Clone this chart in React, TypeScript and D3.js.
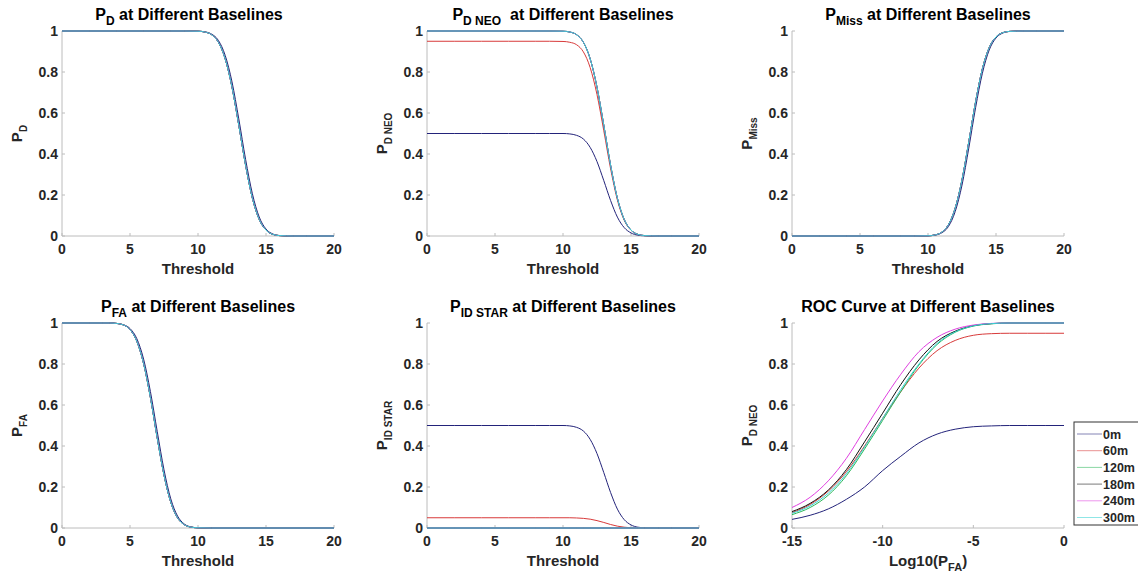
import React from "react";
import * as d3 from "d3";

// ---------- data ----------
const baselines = ["0m", "60m", "120m", "180m", "240m", "300m"];
const seriesColors = ["#23237a", "#d83a3a", "#2cb85a", "#111111", "#e040e0", "#35d2d2"];

const thresholds = [0, 2, 4, 6, 8, 9, 10, 10.5, 11, 11.5, 12, 12.5, 13, 13.5, 14, 14.5, 15, 15.5, 16, 17, 18, 20];
const pdAll = [1, 1, 1, 1, 1, 1, 0.999, 0.995, 0.982, 0.945, 0.864, 0.726, 0.54, 0.345, 0.184, 0.081, 0.029, 0.008, 0.002, 0, 0, 0];
const pd0m = [1, 1, 1, 1, 1, 1, 0.999, 0.996, 0.985, 0.954, 0.881, 0.752, 0.571, 0.374, 0.206, 0.093, 0.034, 0.01, 0.002, 0, 0, 0];
const pMissAll = [0, 0, 0, 0, 0, 0, 0.001, 0.005, 0.018, 0.055, 0.136, 0.274, 0.46, 0.655, 0.816, 0.919, 0.971, 0.992, 0.998, 1, 1, 1];
const pMiss0m = [0, 0, 0, 0, 0, 0, 0.001, 0.004, 0.015, 0.046, 0.119, 0.248, 0.429, 0.626, 0.794, 0.907, 0.966, 0.99, 0.998, 1, 1, 1];
const pdNeo0 = [0.5, 0.5, 0.5, 0.5, 0.5, 0.5, 0.5, 0.498, 0.491, 0.473, 0.432, 0.363, 0.27, 0.173, 0.092, 0.041, 0.015, 0.004, 0.001, 0, 0, 0];
const pdNeo60 = [0.95, 0.95, 0.95, 0.95, 0.95, 0.95, 0.949, 0.945, 0.933, 0.898, 0.821, 0.69, 0.513, 0.328, 0.175, 0.077, 0.028, 0.008, 0.002, 0, 0, 0];
const pdNeoHigh = [1, 1, 1, 1, 1, 1, 0.999, 0.995, 0.982, 0.945, 0.864, 0.726, 0.54, 0.345, 0.184, 0.081, 0.029, 0.008, 0.002, 0, 0, 0];
const pIdStar0 = [0.5, 0.5, 0.5, 0.5, 0.5, 0.5, 0.5, 0.498, 0.491, 0.473, 0.432, 0.363, 0.27, 0.173, 0.092, 0.041, 0.015, 0.004, 0.001, 0, 0, 0];
const pIdStar60 = [0.05, 0.05, 0.05, 0.05, 0.05, 0.05, 0.05, 0.05, 0.049, 0.047, 0.043, 0.036, 0.027, 0.017, 0.009, 0.004, 0.001, 0, 0, 0, 0, 0];
const pIdStarHigh = [0, 0, 0, 0, 0, 0, 0, 0, 0, 0, 0, 0, 0, 0, 0, 0, 0, 0, 0, 0, 0, 0];

const faThresholds = [0, 2, 3, 3.5, 4, 4.5, 5, 5.5, 6, 6.5, 7, 7.5, 8, 8.5, 9, 9.5, 10, 11, 15, 20];
const pfaAll = [1, 1, 1, 1, 0.998, 0.991, 0.968, 0.911, 0.802, 0.637, 0.44, 0.258, 0.125, 0.049, 0.016, 0.004, 0.001, 0, 0, 0];
const pfa0m = [1, 1, 1, 1, 0.998, 0.992, 0.973, 0.924, 0.824, 0.666, 0.472, 0.284, 0.142, 0.058, 0.019, 0.005, 0.001, 0, 0, 0];

const logPfa = [-15, -14, -13, -12, -11, -10, -9, -8, -7, -6, -5, -4, -3, -2, -1, 0];
const roc0 = [0.042, 0.062, 0.093, 0.14, 0.2, 0.28, 0.35, 0.415, 0.458, 0.482, 0.494, 0.498, 0.5, 0.5, 0.5, 0.5];
const roc60 = [0.075, 0.115, 0.18, 0.275, 0.4, 0.535, 0.665, 0.78, 0.865, 0.915, 0.94, 0.948, 0.95, 0.95, 0.95, 0.95];
const roc120 = [0.065, 0.1, 0.16, 0.255, 0.385, 0.525, 0.665, 0.795, 0.895, 0.955, 0.985, 0.996, 1, 1, 1, 1];
const roc180 = [0.08, 0.12, 0.185, 0.285, 0.42, 0.56, 0.7, 0.82, 0.91, 0.96, 0.987, 0.997, 1, 1, 1, 1];
const roc240 = [0.1, 0.15, 0.23, 0.34, 0.48, 0.62, 0.75, 0.86, 0.93, 0.97, 0.99, 0.998, 1, 1, 1, 1];
const roc300 = [0.072, 0.108, 0.17, 0.265, 0.395, 0.535, 0.675, 0.8, 0.9, 0.957, 0.986, 0.997, 1, 1, 1, 1];

const thresholdTicks = [0, 5, 10, 15, 20];
const logTicks = [-15, -10, -5, 0];
const probTicks = [0, 0.2, 0.4, 0.6, 0.8, 1];

// ---------- layout ----------
const W = 1138;
const H = 577;
const colX = [62, 427, 792];
const rowY = [31, 323];
const plotW = 272;
const plotH = 205;
const FONT = "'Liberation Sans', Arial, sans-serif";
const AXIS_COLOR = "#bcbcbc";
const TEXT_COLOR = "#262626";

type Part = [string, boolean];

interface Panel {
  title: Part[];
  titleDx: number;
  ylabel: Part[];
  xlabel: Part[];
  xs: number[];
  ys: number[][];
  domain: [number, number];
  ticks: number[];
}

const panels: Panel[] = [
  {
    title: [["P", false], ["D", true], [" at Different Baselines", false]],
    titleDx: -9,
    ylabel: [["P", false], ["D", true]],
    xlabel: [["Threshold", false]],
    xs: thresholds,
    ys: [pd0m, pdAll, pdAll, pdAll, pdAll, pdAll],
    domain: [0, 20],
    ticks: thresholdTicks,
  },
  {
    title: [["P", false], ["D NEO", true], ["  at Different Baselines", false]],
    titleDx: 0,
    ylabel: [["P", false], ["D NEO", true]],
    xlabel: [["Threshold", false]],
    xs: thresholds,
    ys: [pdNeo0, pdNeo60, pdNeoHigh, pdNeoHigh, pdNeoHigh, pdNeoHigh],
    domain: [0, 20],
    ticks: thresholdTicks,
  },
  {
    title: [["P", false], ["Miss", true], [" at Different Baselines", false]],
    titleDx: 0,
    ylabel: [["P", false], ["Miss", true]],
    xlabel: [["Threshold", false]],
    xs: thresholds,
    ys: [pMiss0m, pMissAll, pMissAll, pMissAll, pMissAll, pMissAll],
    domain: [0, 20],
    ticks: thresholdTicks,
  },
  {
    title: [["P", false], ["FA", true], [" at Different Baselines", false]],
    titleDx: 0,
    ylabel: [["P", false], ["FA", true]],
    xlabel: [["Threshold", false]],
    xs: faThresholds,
    ys: [pfa0m, pfaAll, pfaAll, pfaAll, pfaAll, pfaAll],
    domain: [0, 20],
    ticks: thresholdTicks,
  },
  {
    title: [["P", false], ["ID STAR", true], [" at Different Baselines", false]],
    titleDx: 0,
    ylabel: [["P", false], ["ID STAR", true]],
    xlabel: [["Threshold", false]],
    xs: thresholds,
    ys: [pIdStar0, pIdStar60, pIdStarHigh, pIdStarHigh, pIdStarHigh, pIdStarHigh],
    domain: [0, 20],
    ticks: thresholdTicks,
  },
  {
    title: [["ROC Curve at Different Baselines", false]],
    titleDx: 0,
    ylabel: [["P", false], ["D NEO", true]],
    xlabel: [["Log10(P", false], ["FA", true], [")", false]],
    xs: logPfa,
    ys: [roc0, roc60, roc120, roc180, roc240, roc300],
    domain: [-15, 0],
    ticks: logTicks,
  },
];

function Rich({ parts, size, subSize, subDy }: { parts: Part[]; size: number; subSize: number; subDy: number }) {
  let cur = 0;
  return (
    <>
      {parts.map(([t, sub], i) => {
        const target = sub ? subDy : 0;
        const dy = target - cur;
        cur = target;
        return (
          <tspan key={i} dy={dy} fontSize={sub ? subSize : size} style={{ whiteSpace: "pre" }}>
            {t}
          </tspan>
        );
      })}
    </>
  );
}

function PanelView({ p, idx }: { p: Panel; idx: number }) {
  const col = idx % 3;
  const row = Math.floor(idx / 3);
  const x0 = colX[col];
  const y0 = rowY[row];
  const x = d3.scaleLinear().domain(p.domain).range([x0, x0 + plotW]);
  const y = d3.scaleLinear().domain([0, 1]).range([y0 + plotH, y0]);
  const line = d3
    .line<number>()
    .x((_, i) => x(p.xs[i]))
    .y((v) => y(v))
    .curve(d3.curveMonotoneX);
  const bottom = y0 + plotH;
  return (
    <g>
      {/* axes */}
      <line x1={x0} x2={x0 + plotW} y1={bottom} y2={bottom} stroke={AXIS_COLOR} strokeWidth={1} />
      <line x1={x0} x2={x0} y1={y0} y2={bottom} stroke={AXIS_COLOR} strokeWidth={1} />
      {p.ticks.map((t) => (
        <g key={"xt" + t}>
          <line x1={x(t)} x2={x(t)} y1={bottom} y2={bottom - 3} stroke={AXIS_COLOR} />
          <text x={x(t)} y={bottom + 18} textAnchor="middle" fontSize={14} fontWeight="bold" fill={TEXT_COLOR} fontFamily={FONT}>
            {String(t)}
          </text>
        </g>
      ))}
      {probTicks.map((t) => (
        <g key={"yt" + t}>
          <line x1={x0} x2={x0 + 3} y1={y(t)} y2={y(t)} stroke={AXIS_COLOR} />
          <text x={x0 - 4} y={y(t)} dy="0.36em" textAnchor="end" fontSize={14} fontWeight="bold" fill={TEXT_COLOR} fontFamily={FONT}>
            {String(t)}
          </text>
        </g>
      ))}
      {/* series */}
      {p.ys.map((vals, si) => (
        <path key={si} d={line(vals) || ""} fill="none" stroke={seriesColors[si]} strokeWidth={1} />
      ))}
      {/* title */}
      <text x={x0 + plotW / 2 + p.titleDx} y={y0 - 11} textAnchor="middle" fontWeight="bold" fill="#000" fontFamily={FONT}>
        <Rich parts={p.title} size={16} subSize={12} subDy={5} />
      </text>
      {/* x label */}
      <text x={x0 + plotW / 2} y={bottom + 38} textAnchor="middle" fontWeight="bold" fill={TEXT_COLOR} fontFamily={FONT}>
        <Rich parts={p.xlabel} size={15} subSize={11} subDy={4.5} />
      </text>
      {/* y label */}
      <text transform={`translate(${x0 - 40},${y0 + plotH / 2}) rotate(-90)`} textAnchor="middle" fontWeight="bold" fill={TEXT_COLOR} fontFamily={FONT}>
        <Rich parts={p.ylabel} size={15} subSize={10} subDy={4.5} />
      </text>
    </g>
  );
}

function Legend() {
  const left = 1074;
  const top = 422;
  const rowH = 16.7;
  const firstY = 434;
  return (
    <g>
      <rect x={left} y={top} width={80} height={103} fill="#fff" stroke="#333" strokeWidth={1} />
      {baselines.map((b, i) => {
        const yy = firstY + i * rowH;
        return (
          <g key={b}>
            <line x1={left + 3} x2={left + 28} y1={yy} y2={yy} stroke={seriesColors[i]} strokeWidth={1} opacity={0.55} />
            <text x={left + 29} y={yy} dy="0.36em" fontSize={12.5} fontWeight="bold" fill={TEXT_COLOR} fontFamily={FONT}>
              {b}
            </text>
          </g>
        );
      })}
    </g>
  );
}

export default function App() {
  return (
    <svg width={W} height={H} style={{ position: "absolute", left: 0, top: 0, background: "#fff" }}>
      <rect x={0} y={0} width={W} height={H} fill="#fff" />
      {panels.map((p, i) => (
        <PanelView key={i} p={p} idx={i} />
      ))}
      <Legend />
    </svg>
  );
}
